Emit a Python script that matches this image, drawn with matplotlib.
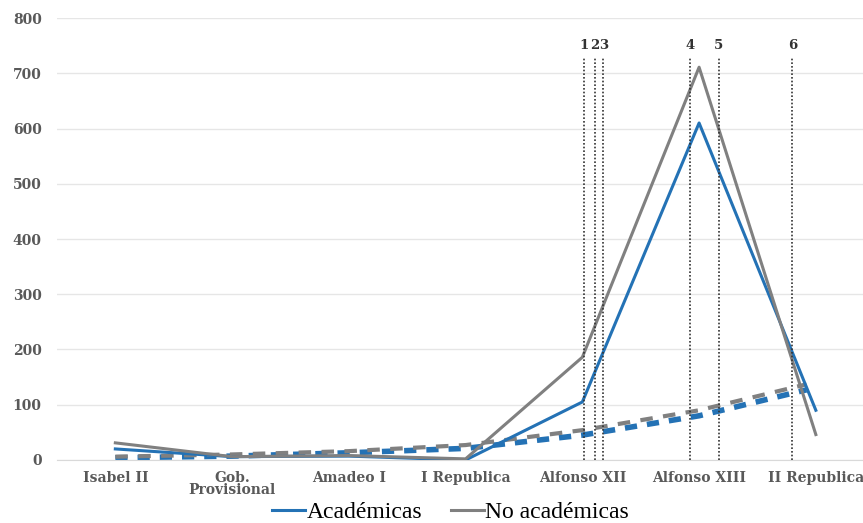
import numpy as np
import matplotlib.pyplot as plt

# categories and series
periodos = ["Isabel II", "Gob.\nProvisional", "Amadeo I", "I Republica",
            "Alfonso XII", "Alfonso XIII", "II Republica"]
academicas = [20, 6, 7, 0, 105, 610, 90]
no_academicas = [31, 6, 8, 2, 186, 711, 46]

# dashed trend lines (as drawn in the original)
tend_academicas = [4, 7, 13, 21, 45, 80, 127]
tend_no_academicas = [6, 10, 16, 27, 54, 90, 137]
tend_x_end = 5.92  # trend lines stop a bit before II Republica

# vertical markers 1..6 (position in category units)
marcas = ["1", "2", "3", "4", "5", "6"]
marcas_x = [4.01, 4.11, 4.18, 4.92, 5.17, 5.80]

azul = "#2472B5"
gris = "#808080"

plt.rcParams['font.family'] = ['DejaVu Serif']

fig = plt.figure(figsize=(8.63, 5.23), dpi=100)
ax = fig.add_axes([0.066, 0.1205, 0.947, 0.845])

x = np.arange(len(periodos))
xt = np.append(x[:-1], tend_x_end)

ax.plot(xt, tend_academicas, color=azul, lw=4, ls=(0, (2.2, 1.8)), zorder=2)
ax.plot(xt, tend_no_academicas, color=gris, lw=3, ls=(0, (3, 2.5)), zorder=2)

ax.plot(x, academicas, color=azul, lw=2.2, label="Académicas", zorder=3)
ax.plot(x, no_academicas, color=gris, lw=2.2, label="No académicas", zorder=3)

for lab, xm in zip(marcas, marcas_x):
    ax.plot([xm, xm], [0, 728], color="#333333", lw=1.2, ls=(0, (1, 1.2)), zorder=4)
    ax.text(xm, 738, lab, ha="center", va="bottom", fontsize=9.5,
            fontweight="bold", color="#333333")

ax.set_xlim(-0.5, 6.5)
ax.set_ylim(0, 800)
ax.set_yticks(np.arange(0, 801, 100))
ax.set_xticks(x)
ax.set_xticklabels(periodos, fontsize=10, fontweight="bold", color="#595959",
                   linespacing=0.85)
for t in ax.get_yticklabels():
    t.set_fontsize(10)
    t.set_fontweight("bold")
    t.set_color("#595959")
ax.tick_params(axis="x", length=0, pad=8)
ax.tick_params(axis="y", length=0, pad=11)
ax.grid(axis="y", color="#E6E6E6", lw=1)
ax.set_axisbelow(True)
for s in ["top", "right", "left"]:
    ax.spines[s].set_visible(False)
ax.spines["bottom"].set_color("#D9D9D9")

fig.legend(loc="center", bbox_to_anchor=(0.522, 0.02), ncol=2, frameon=False,
           prop={'family': 'Liberation Serif', 'size': 17},
           handlelength=1.4, handletextpad=0.05, columnspacing=1.2)

fig.savefig("out.png", dpi=100)
